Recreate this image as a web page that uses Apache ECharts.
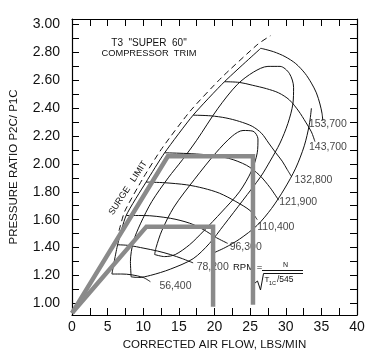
<!DOCTYPE html>
<html><head><meta charset="utf-8">
<script src="https://cdn.jsdelivr.net/npm/echarts@6/dist/echarts.min.js"></script>
<style>html,body{margin:0;padding:0;background:#fff}#c{width:372px;height:361px}</style>
</head><body><div id="c"></div>
<script>
// ---- tick values / labels ----
const xTicks = [0,2.5,5,7.5,10,12.5,15,17.5,20,22.5,25,27.5,30,32.5,35,37.5,40];
const xLabels = [0,5,10,15,20,25,30,35,40];
const yTicks = [1.0,1.1,1.2,1.3,1.4,1.5,1.6,1.7,1.8,1.9,2.0,2.1,2.2,2.3,2.4,2.5,2.6,2.7,2.8,2.9,3.0];
const yLabels = [1.0,1.2,1.4,1.6,1.8,2.0,2.2,2.4,2.6,2.8,3.0];

// ---- speed lines (corrected air flow, pressure ratio) ----
const speedNames = ['56,400','78,200','96,300','110,400','121,900','132,800','143,700','153,700'];
const speed56400  = [[5.6,1.21],[7.0,1.21],[8.3,1.205],[10.0,1.185],[11.0,1.155]];
const speed78200  = [[6.4,1.42],[8.0,1.415],[10.1,1.395],[12.0,1.375],[13.8,1.35],[15.5,1.32],[17.0,1.29]];
const speed96300  = [[7.6,1.63],[10.0,1.63],[13.8,1.61],[16.5,1.575],[18.4,1.53],[20.3,1.47],[21.85,1.43]];
const speed110400 = [[10.4,1.87],[13.0,1.865],[16.1,1.85],[18.5,1.825],[20.7,1.79],[23.0,1.73],[25.0,1.665],[26.0,1.60]];
const speed121900 = [[13.0,2.08],[16.0,2.075],[19.0,2.065],[22.0,2.04],[24.5,1.99],[26.3,1.92],[27.8,1.83],[29.0,1.74]];
const speed132800 = [[17.0,2.35],[19.5,2.345],[21.6,2.33],[23.5,2.305],[25.3,2.27],[26.6,2.22],[27.6,2.15],[28.6,2.08],[29.5,2.02],[30.2,1.96],[30.8,1.91]];
const speed143700 = [[21.4,2.59],[23.5,2.585],[25.3,2.565],[27.3,2.54],[29.0,2.51],[30.5,2.46],[31.8,2.38],[32.8,2.30],[33.6,2.23],[34.1,2.16]];
const speed153700 = [[26.5,2.83],[28.3,2.805],[29.9,2.77],[31.4,2.72],[32.7,2.65],[33.6,2.58],[34.3,2.51],[34.8,2.43],[35.1,2.36],[35.2,2.31]];

// ---- efficiency islands ----
const islandInner = [[11.6,1.35],[13.0,1.335],[14.5,1.35],[16.5,1.42],[18.5,1.52],[21.0,1.655],[23.5,1.80],[25.2,1.95],[26.0,2.08],[26.1,2.18],[25.4,2.235],[24.0,2.24],[22.5,2.20],[20.2,2.08],[17.2,1.89],[14.3,1.69],[12.6,1.52],[11.8,1.40],[11.6,1.35]];
const islandOuter = [[8.3,1.19],[8.2,1.30],[8.6,1.44],[9.6,1.57],[11.2,1.73],[13.5,1.90],[15.5,2.03],[17.5,2.17],[20.5,2.40],[23.2,2.57],[25.5,2.66],[27.5,2.70],[29.2,2.70],[30.5,2.65],[31.1,2.55],[31.0,2.43],[30.3,2.29],[29.2,2.15],[27.8,2.02],[26.5,1.91],[24.0,1.74],[21.3,1.56],[19.3,1.43],[17.0,1.32],[13.8,1.245],[11.0,1.20],[9.3,1.185],[8.3,1.19]];
const islandOpen = [[33.6,2.40],[33.3,2.28],[32.6,2.13],[31.4,1.97],[29.8,1.82],[28.0,1.68],[26.0,1.56],[23.5,1.46],[21.5,1.40],[19.8,1.36]];

// ---- surge ----
const surgeLine = [[5.6,1.21],[6.4,1.42],[7.6,1.63],[10.4,1.87],[13.0,2.08],[17.0,2.35],[21.4,2.59],[26.5,2.83]];
const surgeLimit = [[6.6,1.52],[7.4,1.66],[10.0,1.90],[12.6,2.11],[16.6,2.38],[21.0,2.62],[26.1,2.86],[27.85,2.92]];

// ---- operating lines (gray) ----
const opHigh = [[0,0.93],[13.45,2.055],[25.4,2.055],[25.4,0.99]];
const opLow  = [[0,0.93],[10.45,1.55],[19.8,1.55],[19.8,0.975]];

const FONT = '"Liberation Sans", Arial, sans-serif';
const speedData = [speed56400,speed78200,speed96300,speed110400,speed121900,speed132800,speed143700,speed153700];
const labelOffsets = [[9,4],[3.5,4],[2,3.5],[0,7],[0.5,2],[3,3.5],[-6,5],[-14,3]];

function thin(name, data, extra) {
  return Object.assign({
    type:'line', name:name, data:data, symbol:'none', showSymbol:false, smooth:0.3,
    lineStyle:{color:'#111', width:1}, z:2, silent:true
  }, extra || {});
}

const series = [];
speedData.forEach((d,i)=>series.push(thin(speedNames[i], d)));
series.push(thin('inner', islandInner));
series.push(thin('outer', islandOuter));
series.push(thin('open', islandOpen));
series.push(thin('surge', surgeLine, {smooth:0.2}));
series.push(thin('surgeLimit', surgeLimit, {smooth:0.2, lineStyle:{color:'#111', width:1, type:[6,4]}}));
series.push({type:'line', name:'opHigh', data:opHigh, symbol:'none', z:5, lineStyle:{color:'#8a8a8a', width:4.5, join:'miter'}, silent:true});
series.push({type:'line', name:'opLow', data:opLow, symbol:'none', z:5, lineStyle:{color:'#8a8a8a', width:4.5, join:'miter'}, silent:true});
series.push({
  type:'scatter', name:'speedLabels', symbolSize:0, z:3, silent:true,
  data: speedData.map((d,i)=>({
    value: d[d.length-1], name: speedNames[i],
    label:{show:true, formatter: speedNames[i], position: labelOffsets[i], align:'left', verticalAlign:'middle',
      fontSize:10.5, color:'#111', fontFamily:FONT}
  }))
});

const axisCommon = {
  axisLine:{show:true, onZero:false, lineStyle:{color:'#000', width:1.2}},
  splitLine:{show:false}
};

const option = {
  animation:false,
  backgroundColor:'#fff',
  grid:{left:66, right:15, top:19, bottom:46},
  xAxis:[
    Object.assign({type:'value', min:0, max:40, position:'bottom',
      axisTick:{show:true, inside:true, length:7, customValues:xTicks, lineStyle:{color:'#000'}},
      axisLabel:{customValues:xLabels, fontSize:14, color:'#111', margin:5, fontFamily:FONT},
      name:'CORRECTED AIR FLOW, LBS/MIN', nameLocation:'middle', nameGap:23,
      nameTextStyle:{fontSize:11.5, color:'#111', fontFamily:FONT}}, axisCommon),
    Object.assign({type:'value', min:0, max:40, position:'top',
      axisTick:{show:true, inside:true, length:7, customValues:xTicks, lineStyle:{color:'#000'}},
      axisLabel:{show:false}}, axisCommon)
  ],
  yAxis:[
    Object.assign({type:'value', min:0.916, max:3.04, position:'left',
      axisTick:{show:true, inside:true, length:7, customValues:yTicks, lineStyle:{color:'#000'}},
      axisLabel:{customValues:yLabels, fontSize:14, color:'#111', margin:12, fontFamily:FONT,
        formatter:v=>Number(v).toFixed(2)},
      name:'PRESSURE RATIO P2C/ P1C', nameLocation:'middle', nameGap:52,
      nameTextStyle:{fontSize:11.5, color:'#111', fontFamily:FONT}}, axisCommon),
    Object.assign({type:'value', min:0.916, max:3.04, position:'right',
      axisTick:{show:true, inside:true, length:7, customValues:yTicks, lineStyle:{color:'#000'}},
      axisLabel:{show:false}}, axisCommon)
  ],
  series: series,
  graphic: [
    {type:'text', x:149, y:43.5, style:{text:'T3  "SUPER  60"', font:'10px '+FONT, fill:'#111', align:'center', verticalAlign:'middle'}},
    {type:'text', x:149, y:53.5, style:{text:'COMPRESSOR  TRIM', font:'9.3px '+FONT, fill:'#111', align:'center', verticalAlign:'middle'}},
    {type:'text', x:128, y:188, rotation:0.99, style:{text:'SURGE   LIMIT', font:'9px '+FONT, fill:'#111', align:'center', verticalAlign:'middle'}},
    {type:'text', x:233, y:267, style:{text:'RPM =', font:'9.5px '+FONT, fill:'#111', align:'left', verticalAlign:'middle'}},
    {type:'text', x:285.5, y:265, style:{text:'N', font:'7px '+FONT, fill:'#111', align:'center', verticalAlign:'middle'}},
    {type:'line', shape:{x1:262, y1:270.5, x2:303, y2:270.5}, style:{stroke:'#111', lineWidth:1}},
    {type:'polyline', shape:{points:[[255,283],[257.5,281],[260.5,290],[263.5,273.5],[303,273.5]]}, style:{stroke:'#111', fill:null, lineWidth:1}},
    {type:'text', x:264.5, y:279.5, style:{text:'T', font:'8px '+FONT, fill:'#111', align:'left', verticalAlign:'middle'}},
    {type:'text', x:269, y:283, style:{text:'1C', font:'5.5px '+FONT, fill:'#111', align:'left', verticalAlign:'middle'}},
    {type:'text', x:277, y:279.5, style:{text:'/545', font:'8.5px '+FONT, fill:'#111', align:'left', verticalAlign:'middle'}}
  ]
};

const chart = echarts.init(document.getElementById('c'), null, {renderer:'canvas'});
chart.setOption(option);
</script>
</body></html>
